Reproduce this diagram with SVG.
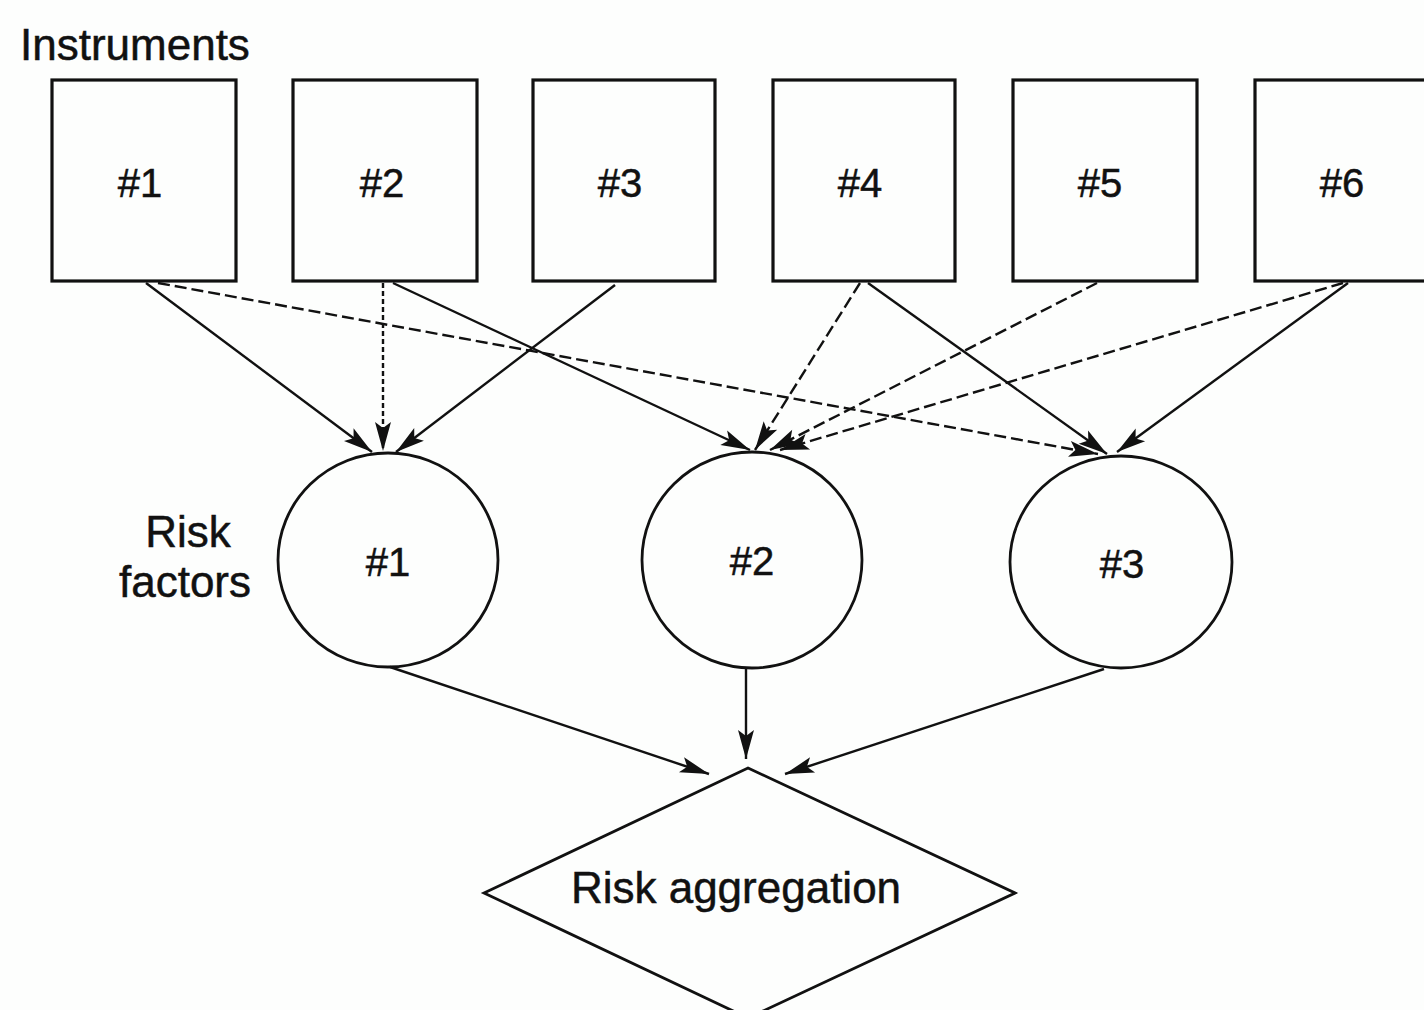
<svg xmlns="http://www.w3.org/2000/svg" width="1424" height="1010" viewBox="0 0 1424 1010">
<style>
text{font-family:"Liberation Sans",Arial,sans-serif;fill:#111;stroke:#111;stroke-width:0.5;}
.lbl{font-size:44px;}
.num{font-size:40px;text-anchor:middle;}
.box{fill:none;stroke:#111;stroke-width:3.2;}
.node{fill:none;stroke:#111;stroke-width:2.8;}
.c{fill:none;stroke:#111;stroke-width:2.4;marker-end:url(#ah);}
.d{stroke-dasharray:12 5;}
.dt{stroke-dasharray:5 3;}
</style>
<defs>
<marker id="ah" viewBox="-30 -10 32 20" refX="0" refY="0" markerWidth="32" markerHeight="20" markerUnits="userSpaceOnUse" orient="auto">
<path d="M0,0 L-29,-8 L-23,0 L-29,8 Z" fill="#111"/>
</marker>
</defs>
<rect width="1424" height="1010" fill="#fdfefd"/>
<text class="lbl" x="20" y="60">Instruments</text>
<text class="lbl" x="188" y="547" text-anchor="middle">Risk</text>
<text class="lbl" x="185" y="597" text-anchor="middle">factors</text>
<g id="inst1"><rect class="box" x="52" y="80" width="184" height="201"/><text class="num" x="140" y="197">#1</text></g>
<g id="inst2"><rect class="box" x="293" y="80" width="184" height="201"/><text class="num" x="382" y="197">#2</text></g>
<g id="inst3"><rect class="box" x="533" y="80" width="182" height="201"/><text class="num" x="620" y="197">#3</text></g>
<g id="inst4"><rect class="box" x="773" y="80" width="182" height="201"/><text class="num" x="860" y="197">#4</text></g>
<g id="inst5"><rect class="box" x="1013" y="80" width="184" height="201"/><text class="num" x="1100" y="197">#5</text></g>
<g id="inst6"><rect class="box" x="1255" y="80" width="184" height="201"/><text class="num" x="1342" y="197">#6</text></g>
<g id="rf1"><ellipse class="node" cx="388" cy="560" rx="110" ry="107"/><text class="num" x="388" y="576">#1</text></g>
<g id="rf2"><ellipse class="node" cx="752" cy="560" rx="110" ry="108"/><text class="num" x="752" y="575">#2</text></g>
<g id="rf3"><ellipse class="node" cx="1121" cy="562" rx="111" ry="106"/><text class="num" x="1122" y="578">#3</text></g>
<g id="agg"><path class="node" d="M748,768 L1015,893 L748,1018 L484,893 Z"/><text class="lbl" x="736" y="903" text-anchor="middle">Risk aggregation</text></g>
<g id="connectors">
<line class="c" x1="146" y1="283" x2="372" y2="452"/>
<line class="c d" x1="158" y1="283" x2="1098" y2="454"/>
<line class="c dt" x1="383" y1="283" x2="383" y2="451"/>
<line class="c" x1="393" y1="283" x2="750" y2="450"/>
<line class="c" x1="615" y1="285" x2="396" y2="452"/>
<line class="c d" x1="860" y1="283" x2="755" y2="450"/>
<line class="c" x1="868" y1="283" x2="1107" y2="454"/>
<line class="c d" x1="1097" y1="283" x2="770" y2="450"/>
<line class="c d" x1="1343" y1="283" x2="780" y2="450"/>
<line class="c" x1="1348" y1="283" x2="1117" y2="452"/>
<line class="c" x1="390" y1="667" x2="709" y2="774"/>
<line class="c" x1="746" y1="668" x2="746" y2="759"/>
<line class="c" x1="1104" y1="669" x2="785" y2="774"/>
</g>
</svg>
